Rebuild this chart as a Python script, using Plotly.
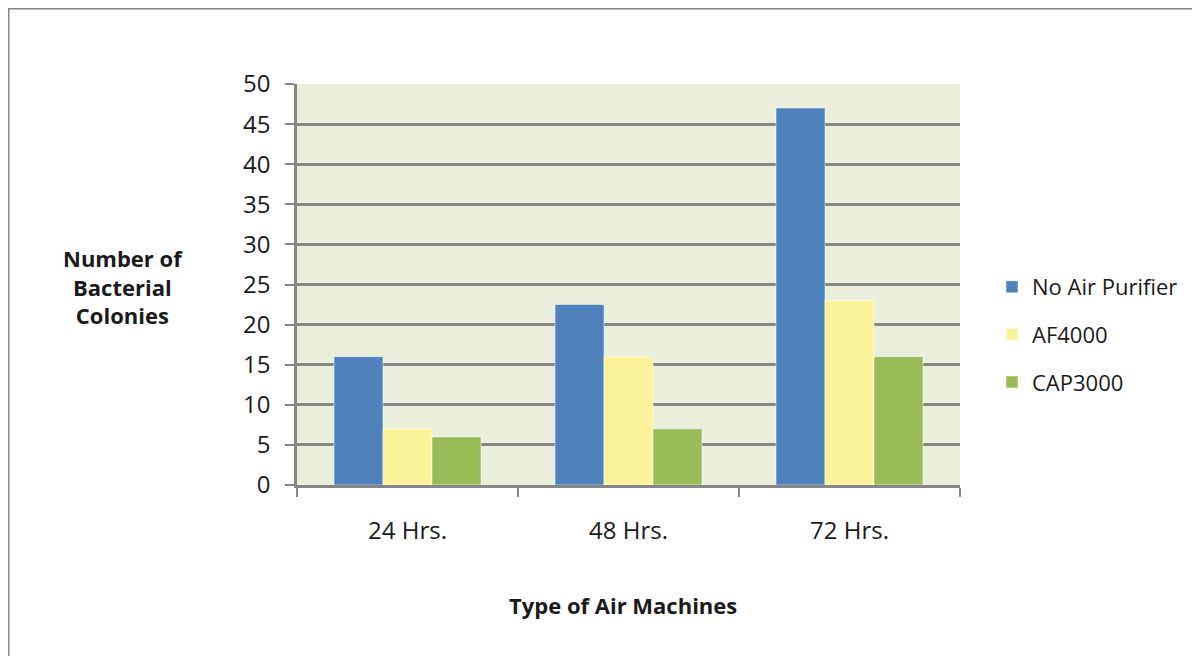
import plotly.graph_objects as go

categories = ["24 Hrs.", "48 Hrs.", "72 Hrs."]
series_names = ["No Air Purifier", "AF4000", "CAP3000"]
no_air = [16, 22.5, 47]
af4000 = [7, 16, 23]
cap3000 = [6, 7, 16]
y_ticks = [0, 5, 10, 15, 20, 25, 30, 35, 40, 45, 50]

colors = ["#4F81BD", "#FAF39A", "#9BBB59"]
FONT = "Open Sans"
TXT = "#1a1a1a"

fig = go.Figure()
for name, vals, col in zip(series_names, [no_air, af4000, cap3000], colors):
    fig.add_trace(go.Bar(
        x=categories, y=vals, name=name, legendgroup=name,
        marker=dict(color=col, line=dict(color="rgba(255,255,255,0.5)", width=1)),
    ))

OFF = 8  # page body offset
W, H = 1200, 656
PX0, PX1, PY0, PY1 = 297, 960, 84, 485  # desired plot area in screen px
L = PX0 - OFF
T = PY0 - OFF
pw = PX1 - PX0
ph = PY1 - PY0
R = W - L - pw
B = H - T - ph

def px_x(px):
    return (px - PX0) / pw

def px_y(py):
    return (PY1 - py) / ph

fig.update_layout(
    width=W, height=H,
    margin=dict(l=L, r=R, t=T, b=B, pad=0),
    paper_bgcolor="white",
    plot_bgcolor="#EAEEDC",
    barmode="group",
    bargap=0.335,
    bargroupgap=0,
    font=dict(family=FONT, size=22, color=TXT),
    showlegend=True,
    legend=dict(
        x=px_x(992), y=px_y(266), xanchor="left", yanchor="top",
        font=dict(family=FONT, size=22, color=TXT),
        traceorder="grouped", tracegroupgap=16,
        itemwidth=30, bgcolor="rgba(0,0,0,0)",
    ),
    xaxis=dict(
        type="category",
        showline=True, linecolor="#878787", linewidth=2.5,
        ticks="outside", tickson="boundaries", ticklen=9, tickwidth=2, tickcolor="#878787",
        ticklabelstandoff=22,
        tickfont=dict(family=FONT, size=24, color=TXT),
        showgrid=False,
    ),
    yaxis=dict(
        range=[0, 50], tickvals=y_ticks,
        showline=True, linecolor="#878787", linewidth=2.5,
        ticks="outside", ticklen=9, tickwidth=2, tickcolor="#878787",
        ticklabelstandoff=10,
        tickfont=dict(family=FONT, size=24, color=TXT),
        showgrid=True, gridcolor="#878787", gridwidth=2.5,
        zeroline=False,
    ),
    annotations=[
        dict(text="<b>Number of<br>Bacterial<br>Colonies</b>", x=px_x(123), y=px_y(286),
             xref="paper", yref="paper", showarrow=False, xanchor="center", yanchor="middle",
             font=dict(family=FONT, size=22, color=TXT), align="center"),
        dict(text="<b>Type of Air Machines</b>", x=px_x(623), y=px_y(605),
             xref="paper", yref="paper", showarrow=False, xanchor="center", yanchor="middle",
             font=dict(family=FONT, size=22, color=TXT)),
    ],
    shapes=[
        dict(type="rect", xref="paper", yref="paper",
             x0=px_x(8), x1=px_x(1230), y0=px_y(8), y1=px_y(700),
             line=dict(color="#858585", width=3), fillcolor="rgba(0,0,0,0)", layer="below"),
    ],
)

fig.write_html("out.html")
